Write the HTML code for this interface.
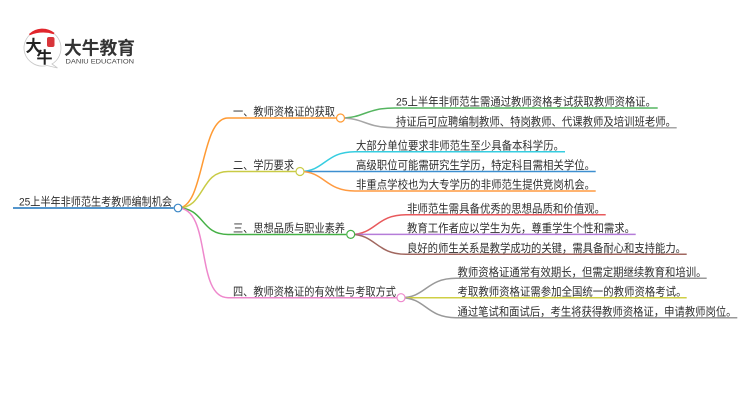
<!DOCTYPE html>
<html><head><meta charset="utf-8">
<style>
html,body{margin:0;padding:0;background:#fff;width:750px;height:410px;overflow:hidden}
svg{display:block}
text{font-family:"Liberation Sans","Noto Sans CJK SC",sans-serif;font-size:11.400px;fill:#2e2e2e}
.l{fill:none;stroke-width:1.5}
</style></head><body>
<svg width="750" height="410" viewBox="0 0 750 410" xmlns="http://www.w3.org/2000/svg">
<!-- logo -->
<path d="M24 47.500A18.500 18.500 0 1 1 52 64L57.500 68L47 65.500A18.500 18.500 0 0 1 24 47.500Z" fill="#fff" stroke="#c8c8c8" stroke-width=".8"/>
<path d="M29.500 34.500A18.500 18.500 0 0 1 54 33.500Q42 29.500 29.500 34.500Z" fill="#e1262c" stroke="#e1262c" stroke-width="1.500"/>
<rect x="47" y="37" width="7.500" height="10" rx="2" fill="#d8353a"/>
<text x="25.500" y="51.500" style="font-family:'Liberation Sans','Noto Sans CJK SC',sans-serif;font-size:16px;font-weight:700;fill:#222">大</text>
<text x="36.500" y="63" style="font-family:'Liberation Sans','Noto Sans CJK SC',sans-serif;font-size:16px;font-weight:700;fill:#222">牛</text>
<text x="64" y="54.500" style="font-size:18px;font-weight:700;fill:#333" textLength="71" lengthAdjust="spacingAndGlyphs">大牛教育</text>
<text x="65.500" y="63.500" style="font-size:6.600px;fill:#444" textLength="68.500" lengthAdjust="spacingAndGlyphs">DANIU EDUCATION</text>

<!-- root -->
<path class="l" d="M13 208H173.500" stroke="#3b87c6" style="stroke-width:1.800"/>
<path class="l" stroke="#ff9a33" d="M178 208C205 208 200 118 228 118H336"/>
<path class="l" stroke="#c9cb45" d="M178 208C205 208 200 171.500 228 171.500H295.500"/>
<path class="l" stroke="#45b045" d="M178 208C205 208 200 234.500 228 234.500H346"/>
<path class="l" stroke="#ee88cc" d="M178 208C212 208 195 297.700 228 297.700H396.500"/>

<!-- b1 -->
<path class="l" stroke="#55b560" d="M340.500 118C365 118 365 108 395 108H657.700"/>
<path class="l" stroke="#a6a6a6" d="M340.500 118C365 118 365 127.700 395 127.700H676.700"/>
<!-- b2 -->
<path class="l" stroke="#36cde0" d="M300 171.500C325 171.500 325 151.700 355 151.700H565"/>
<path class="l" stroke="#3d8fd0" d="M300 171.500H595.700"/>
<path class="l" stroke="#ff9a40" d="M300 171.500C325 171.500 325 191 355 191H595.700"/>
<!-- b3 -->
<path class="l" stroke="#e8595c" d="M351 234.400C376 234.400 376 214.700 406 214.700H605.700"/>
<path class="l" stroke="#b57cd9" d="M351 234.400H635.700"/>
<path class="l" stroke="#a1675f" d="M351 234.400C376 234.400 376 254.300 406 254.300H686.700"/>
<!-- b4 -->
<path class="l" stroke="#999" d="M401 297.700C426 297.700 426 278.300 456 278.300H706.700"/>
<path class="l" stroke="#cfcf45" d="M401 297.700H686.700"/>
<path class="l" stroke="#999" d="M401 297.700C426 297.700 426 317.700 456 317.700H737.300"/>

<!-- circles -->
<circle cx="178" cy="208" r="3.800" fill="#fff" stroke="#3b87c6" stroke-width="1.200"/>
<circle cx="340.500" cy="118" r="4" fill="#fff" stroke="#ff9a33" stroke-width="1.200"/>
<circle cx="300" cy="171.500" r="4" fill="#fff" stroke="#c9cb45" stroke-width="1.200"/>
<circle cx="350.700" cy="234.400" r="4" fill="#fff" stroke="#45b045" stroke-width="1.200"/>
<circle cx="401" cy="297.700" r="4" fill="#fff" stroke="#ee88cc" stroke-width="1.200"/>

<!-- labels -->
<text lengthAdjust="spacingAndGlyphs" x="19" y="205.600" textLength="153">25上半年非师范生考教师编制机会</text>
<text lengthAdjust="spacingAndGlyphs" x="233" y="115.600" textLength="102">一、教师资格证的获取</text>
<text lengthAdjust="spacingAndGlyphs" x="233" y="169.100" textLength="61">二、学历要求</text>
<text lengthAdjust="spacingAndGlyphs" x="233" y="232" textLength="112">三、思想品质与职业素养</text>
<text lengthAdjust="spacingAndGlyphs" x="233" y="295.300" textLength="163">四、教师资格证的有效性与考取方式</text>

<text lengthAdjust="spacingAndGlyphs" x="396" y="105.600" textLength="260">25上半年非师范生需通过教师资格考试获取教师资格证。</text>
<text lengthAdjust="spacingAndGlyphs" x="396" y="125.300" textLength="280">持证后可应聘编制教师、特岗教师、代课教师及培训班老师。</text>
<text lengthAdjust="spacingAndGlyphs" x="356" y="149.300" textLength="208">大部分单位要求非师范生至少具备本科学历。</text>
<text lengthAdjust="spacingAndGlyphs" x="356" y="169.100" textLength="239">高级职位可能需研究生学历，特定科目需相关学位。</text>
<text lengthAdjust="spacingAndGlyphs" x="356" y="188.600" textLength="239">非重点学校也为大专学历的非师范生提供竞岗机会。</text>
<text lengthAdjust="spacingAndGlyphs" x="407" y="212.300" textLength="198">非师范生需具备优秀的思想品质和价值观。</text>
<text lengthAdjust="spacingAndGlyphs" x="407" y="232" textLength="228">教育工作者应以学生为先，尊重学生个性和需求。</text>
<text lengthAdjust="spacingAndGlyphs" x="407" y="251.900" textLength="279">良好的师生关系是教学成功的关键，需具备耐心和支持能力。</text>
<text lengthAdjust="spacingAndGlyphs" x="457.500" y="275.900" textLength="249">教师资格证通常有效期长，但需定期继续教育和培训。</text>
<text lengthAdjust="spacingAndGlyphs" x="457.500" y="295.300" textLength="229">考取教师资格证需参加全国统一的教师资格考试。</text>
<text lengthAdjust="spacingAndGlyphs" x="457.500" y="315.300" textLength="279">通过笔试和面试后，考生将获得教师资格证，申请教师岗位。</text>
</svg>
</body></html>
